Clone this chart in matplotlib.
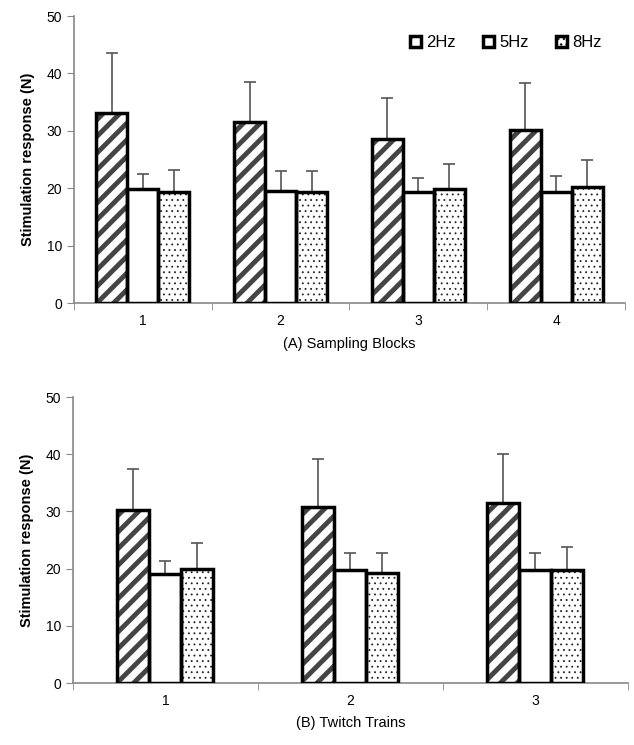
import matplotlib
matplotlib.use("Agg")
import matplotlib.pyplot as plt
from matplotlib.legend_handler import HandlerTuple
import numpy as np

plt.rcParams['font.family'] = ['Liberation Sans', 'DejaVu Sans']

series = ['2Hz', '5Hz', '8Hz']

# (A) Sampling Blocks
blocks = ['1', '2', '3', '4']
blocks_mean = {
    '2Hz': [33.1, 31.5, 28.6, 30.1],
    '5Hz': [19.9, 19.5, 19.3, 19.3],
    '8Hz': [19.3, 19.3, 19.9, 20.2],
}
blocks_err = {
    '2Hz': [10.5, 7.0, 7.1, 8.2],
    '5Hz': [2.6, 3.5, 2.5, 2.8],
    '8Hz': [3.9, 3.7, 4.3, 4.8],
}

# (B) Twitch Trains
trains = ['1', '2', '3']
trains_mean = {
    '2Hz': [30.2, 30.8, 31.5],
    '5Hz': [19.0, 19.7, 19.8],
    '8Hz': [19.9, 19.2, 19.8],
}
trains_err = {
    '2Hz': [7.2, 8.3, 8.5],
    '5Hz': [2.3, 3.0, 2.9],
    '8Hz': [4.6, 3.5, 4.0],
}

styles = {
    '2Hz': dict(hatch='//', hcolor='#444444', hlw=3.5),
    '5Hz': dict(hatch='', hcolor='#444444', hlw=1.0),
    '8Hz': dict(hatch='...', hcolor='#222222', hlw=0.6),
}


def draw_panel(ax, cats, means, errs, width, xlabel, legend=False):
    x = np.arange(len(cats))
    handles = []
    for i, s in enumerate(series):
        st = styles[s]
        pos = x + (i - 1) * width
        # error bars (upper only) behind the bars
        ax.errorbar(pos, means[s], yerr=[np.zeros(len(cats)), errs[s]], fmt='none',
                    ecolor='#555555', elinewidth=1.2, capsize=4, capthick=1.2, zorder=1)
        # hatch fill, drawn in its own colour
        with plt.rc_context({'hatch.linewidth': st['hlw']}):
            fill = ax.bar(pos, means[s], width, facecolor='white', hatch=st['hatch'],
                          edgecolor=st['hcolor'], linewidth=0, zorder=2)
        # black outline on top
        edge = ax.bar(pos, means[s], width, facecolor='none', edgecolor='black',
                      linewidth=2.5, zorder=3)
        handles.append((fill[0], edge[0]))
    ax.set_xlim(-0.5, len(cats) - 0.5)
    ax.set_ylim(0, 50)
    ax.set_yticks(np.arange(0, 51, 10))
    ax.set_xticks(x)
    ax.set_xticklabels(cats)
    ax.set_xticks(np.arange(-0.5, len(cats), 1.0), minor=True)
    ax.tick_params(axis='x', which='major', length=0, labelsize=10, pad=8)
    ax.tick_params(axis='x', which='minor', length=5, color='#888888', direction='out')
    ax.tick_params(axis='y', length=5, color='#888888', labelsize=10)
    for sp in ['top', 'right']:
        ax.spines[sp].set_visible(False)
    for sp in ['left', 'bottom']:
        ax.spines[sp].set_color('#888888')
        ax.spines[sp].set_linewidth(1.2)
    ax.set_ylabel('Stimulation response (N)', fontsize=10.5, fontweight='bold', labelpad=8)
    ax.set_xlabel(xlabel, fontsize=10.5, labelpad=6)
    if legend:
        ax.legend(handles, series, loc='upper right', ncol=3, frameon=False, fontsize=12,
                  handlelength=0.7, handleheight=0.7, handletextpad=0.3,
                  columnspacing=1.6, bbox_to_anchor=(0.985, 0.985),
                  handler_map={tuple: HandlerTuple(ndivide=1, pad=0)})


fig = plt.figure(figsize=(6.34, 7.45), dpi=100)
ax1 = fig.add_axes([0.1167, 0.593, 0.869, 0.3855])
ax2 = fig.add_axes([0.115, 0.0832, 0.875, 0.3838])

draw_panel(ax1, blocks, blocks_mean, blocks_err, 0.225, '(A) Sampling Blocks', legend=True)
draw_panel(ax2, trains, trains_mean, trains_err, 0.173, '(B) Twitch Trains')

fig.savefig('out.png', dpi=100)
